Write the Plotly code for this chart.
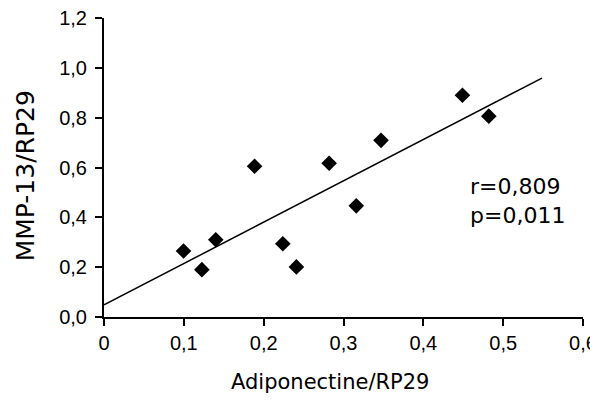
import numpy as np
import plotly.graph_objects as go

adiponectine = [0.0996, 0.1226, 0.140, 0.1886, 0.224, 0.241, 0.282, 0.316, 0.347, 0.449, 0.482]
mmp13 = [0.265, 0.190, 0.310, 0.605, 0.294, 0.201, 0.617, 0.446, 0.709, 0.890, 0.806]

x_ticks = [0, 0.1, 0.2, 0.3, 0.4, 0.5, 0.6]
x_tick_labels = ["0", "0,1", "0,2", "0,3", "0,4", "0,5", "0,6"]
y_ticks = [0, 0.2, 0.4, 0.6, 0.8, 1.0, 1.2]
y_tick_labels = ["0,0", "0,2", "0,4", "0,6", "0,8", "1,0", "1,2"]

x_title = "Adiponectine/RP29"
y_title = "MMP-13/RP29"
stats_text = "r=0,809<br>p=0,011"

trend_x = [0.0, 0.5486]

slope, intercept = np.polyfit(adiponectine, mmp13, 1)
trend_y = [intercept + slope * v for v in trend_x]

fig = go.Figure()
fig.add_trace(go.Scatter(x=trend_x, y=trend_y, mode="lines",
                         line=dict(color="black", width=1.5), showlegend=False,
                         hoverinfo="skip"))
fig.add_trace(go.Scatter(x=adiponectine, y=mmp13, mode="markers",
                         marker=dict(symbol="diamond", size=12, color="black"),
                         showlegend=False))

fig.add_annotation(x=0.4556, y=0.465, xref="x", yref="y", xanchor="left", yanchor="middle",
                   text=stats_text, showarrow=False, align="left",
                   font=dict(family="DejaVu Sans", size=22, color="black"))

# axis titles
fig.add_annotation(x=0.472, y=-0.218, xref="paper", yref="paper", xanchor="center", yanchor="middle",
                   text=x_title, showarrow=False,
                   font=dict(family="DejaVu Sans", size=21, color="black"))
fig.add_annotation(x=-0.164, y=0.472, xref="paper", yref="paper", xanchor="center", yanchor="middle",
                   text=y_title, showarrow=False, textangle=-90,
                   font=dict(family="DejaVu Sans", size=25, color="black"))

# page body has an 8px default margin; compensate so the plot area matches
fig.update_layout(
    width=590, height=392,
    margin=dict(l=95.5, r=14.5, t=9.5, b=82.5),
    plot_bgcolor="white", paper_bgcolor="white",
    showlegend=False,
    xaxis=dict(range=[0, 0.6], tickvals=x_ticks, ticktext=x_tick_labels, automargin=False,
               ticklabeloverflow="allow",
               showgrid=False, zeroline=False, showline=True, linecolor="black", linewidth=2,
               ticks="outside", ticklen=7, tickwidth=2, tickcolor="black",
               tickfont=dict(family="Liberation Sans", size=20, color="black")),
    yaxis=dict(range=[0, 1.2], tickvals=y_ticks, ticktext=y_tick_labels, automargin=False,
               ticklabeloverflow="allow", ticklabelstandoff=4,
               showgrid=False, zeroline=False, showline=True, linecolor="black", linewidth=2,
               ticks="outside", ticklen=7, tickwidth=2, tickcolor="black",
               tickfont=dict(family="Liberation Sans", size=20, color="black")),
)

fig.write_html("out.html")
